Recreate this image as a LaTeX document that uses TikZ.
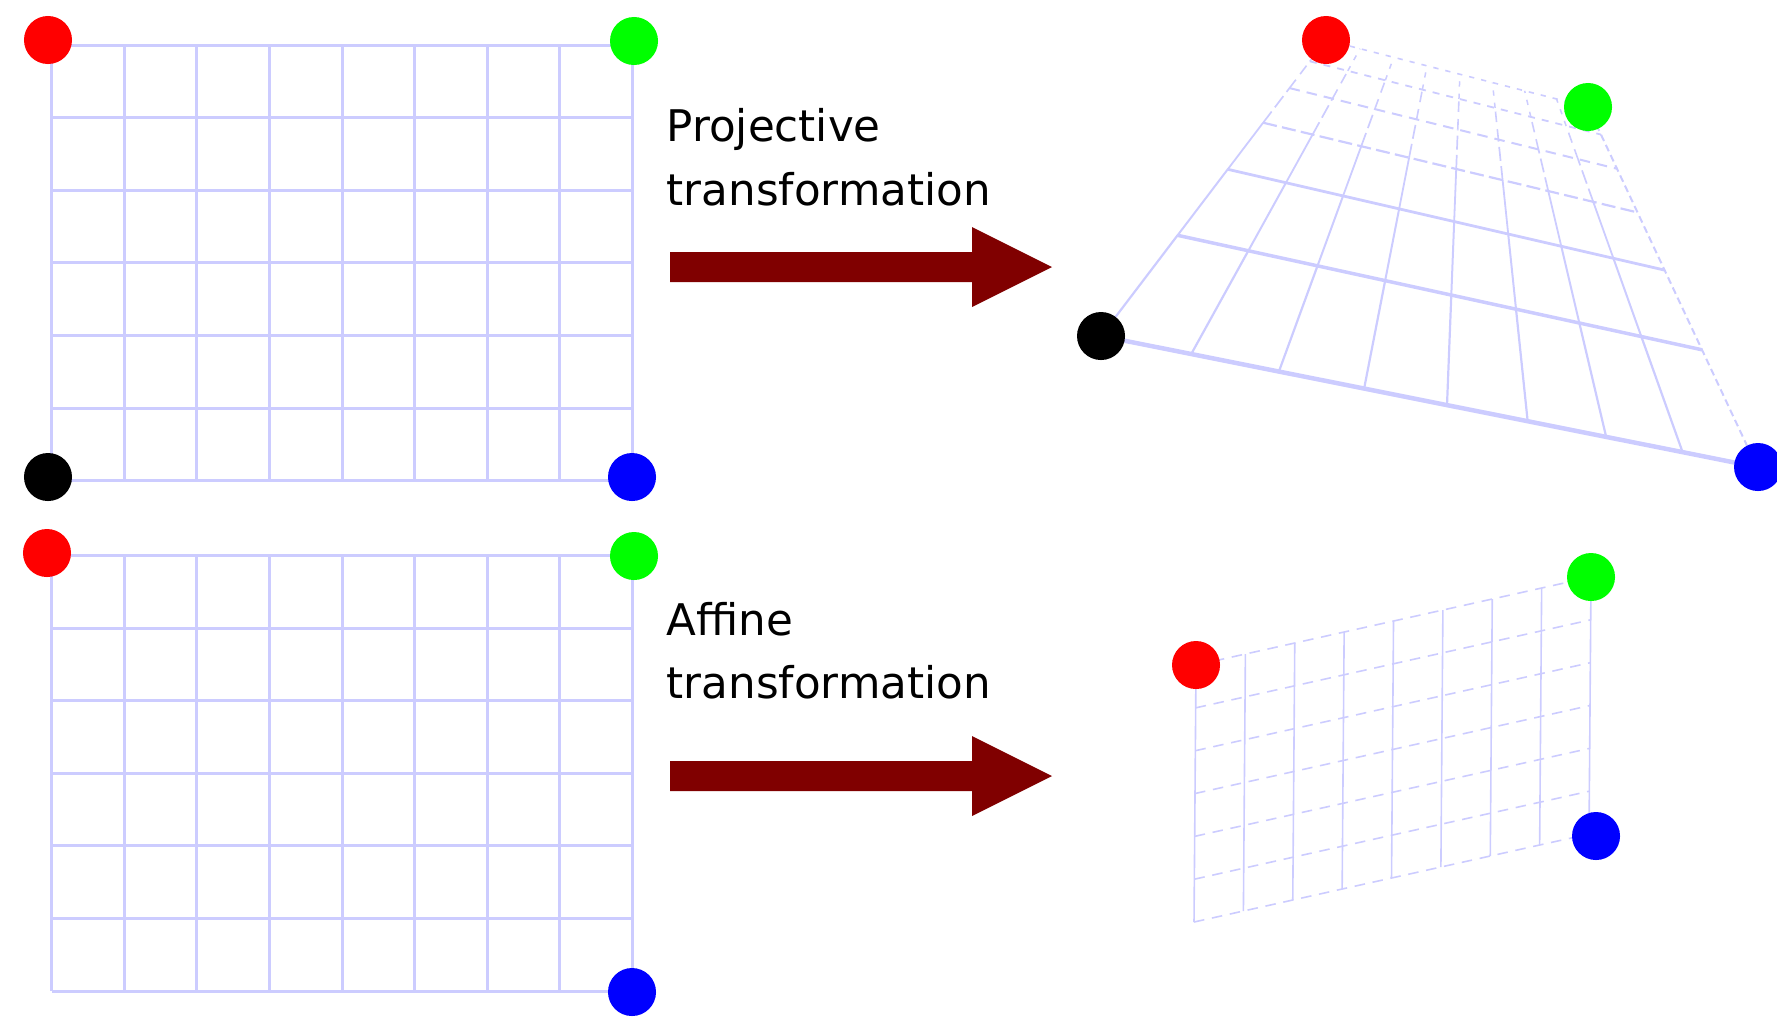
\documentclass[tikz,border=0pt]{standalone}
\usepackage{fontspec}
\setmainfont{DejaVu Sans}
\definecolor{gridc}{RGB}{204,204,255}
\definecolor{arrowc}{RGB}{128,0,0}
\begin{document}
\begin{tikzpicture}[x=0.01cm,y=-0.01cm,
  grid/.style={draw=gridc, line width=0.03cm},
  dot/.style={circle, minimum size=0.48cm, inner sep=0pt},
  lbl/.style={anchor=base west, inner sep=0pt, font=\fontsize{12.4}{14}\selectfont},
  bigarrow/.style={fill=arrowc},
  prow0/.style={draw=gridc, line width=0.045cm},
  prow1/.style={draw=gridc, line width=0.035cm},
  prow2/.style={draw=gridc, line width=0.028cm},
  prow3/.style={draw=gridc, line width=0.022cm, dash pattern=on 4pt off 1.5pt},
  prow4/.style={draw=gridc, line width=0.02cm, dash pattern=on 3pt off 2pt},
  prow5/.style={draw=gridc, line width=0.018cm, dash pattern=on 2pt off 2pt},
  prow6/.style={draw=gridc, line width=0.016cm, dash pattern=on 1.5pt off 2pt},
  pcol0/.style={draw=gridc, line width=0.022cm},
  pcol1/.style={draw=gridc, line width=0.02cm},
  pcol2/.style={draw=gridc, line width=0.018cm},
  pcol3/.style={draw=gridc, line width=0.017cm, dash pattern=on 4pt off 1.5pt},
  pcol4/.style={draw=gridc, line width=0.016cm, dash pattern=on 3pt off 2pt},
  pcol5/.style={draw=gridc, line width=0.015cm, dash pattern=on 1.5pt off 2pt},
  pedge/.style={draw=gridc, line width=0.02cm, dash pattern=on 2pt off 1.2pt},
  avert/.style={draw=gridc, line width=0.016cm},
  ahorz/.style={draw=gridc, line width=0.016cm, dash pattern=on 3pt off 2.2pt},
  declare function={
    pw(\u,\v)=0.11603*\u+1.57866*\v+1;
    px(\u,\v)=1101+(732.12*\u+580.20*\v)/pw(\u,\v);
    py(\u,\v)=336+(146.20*\u-763.28*\v)/pw(\u,\v);
  }]
\useasboundingbox (0,0) rectangle (1777,1017);

% ---- original square grids (left) ----
\foreach \yo in {0,510.5}{
  \foreach \i in {0,...,8}
    \draw[grid] (51.7+72.6*\i, 45+\yo) -- (51.7+72.6*\i, 480.6+\yo);
  \foreach \j in {0,...,6}
    \draw[grid] (51.7, 45+72.6*\j+\yo) -- (632.5, 45+72.6*\j+\yo);
}

% ---- projective image (top right) ----
\foreach \j in {0,...,6}
  \draw[prow\j] ({px(0,\j/6)},{py(0,\j/6)}) -- ({px(1,\j/6)},{py(1,\j/6)});
\foreach \i in {0,...,7}
  \foreach \j in {0,...,5}
    \draw[pcol\j] ({px(\i/8,\j/6)},{py(\i/8,\j/6)}) -- ({px(\i/8,(\j+1)/6)},{py(\i/8,(\j+1)/6)});
\draw[pedge] ({px(1,0)},{py(1,0)}) -- ({px(1,1)},{py(1,1)});

% ---- affine image (bottom right) ----
\foreach \i in {0,...,8}
  \draw[avert] (1196+395*\i/8, 665-88*\i/8) -- (1194+395*\i/8, 922-88*\i/8);
\foreach \j in {0,...,6}
  \draw[ahorz] (1196-2*\j/6, 665+257*\j/6) -- (1591-2*\j/6, 577+257*\j/6);

% ---- corner dots ----
\node[dot, fill=red]   (r1) at (48,40) {};
\node[dot, fill=green] (g1) at (634,41) {};
\node[dot, fill=black] (k1) at (48,477) {};
\node[dot, fill=blue]  (b1) at (632,477) {};

\node[dot, fill=red]   (r2) at (47,553) {};
\node[dot, fill=green] (g2) at (634,556) {};
\node[dot, fill=blue]  (b2) at (632,992) {};

\node[dot, fill=red]   (r3) at (1326,40) {};
\node[dot, fill=green] (g3) at (1588,107) {};
\node[dot, fill=black] (k3) at (1101,336) {};
\node[dot, fill=blue]  (b3) at (1758,467) {};

\node[dot, fill=red]   (r4) at (1196,665) {};
\node[dot, fill=green] (g4) at (1591,577) {};
\node[dot, fill=blue]  (b4) at (1596,836) {};

% ---- labels ----
\node[lbl] (projA) at (666,141.7) {Projective};
\node[lbl] (projB) at (666,205) {transformation};
\node[lbl] (affA) at (666,635) {Affine};
\node[lbl] (affB) at (666,698.3) {transformation};

% ---- arrows ----
\fill[bigarrow] (670,252) -- (972,252) -- (972,227) -- (1052,267) -- (972,307) -- (972,282) -- (670,282) -- cycle;
\fill[bigarrow] (670,761) -- (972,761) -- (972,736) -- (1052,776) -- (972,816) -- (972,791) -- (670,791) -- cycle;
\end{tikzpicture}
\end{document}
